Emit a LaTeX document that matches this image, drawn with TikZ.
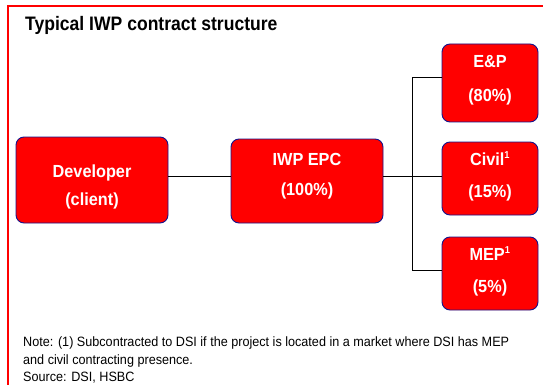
\documentclass[tikz,border=0pt]{standalone}
\usepackage{fontspec}
\usepackage{graphicx}
\setmainfont{Liberation Sans}
\definecolor{boxred}{RGB}{255,0,0}
\definecolor{boxblue}{RGB}{20,20,140}
\newcommand{\cnd}[2]{\scalebox{#1}[1]{#2}}
\begin{document}
\begin{tikzpicture}[x=1pt,y=-1pt,
  entity/.style={draw=boxblue,line width=0.9pt,fill=boxred,rounded corners=8pt},
  lbl/.style={text=white,font=\fontsize{17.5}{17.5}\selectfont\bfseries,anchor=base,inner sep=0pt},
  link/.style={draw=black,line width=1pt},
  frame/.style={draw=red,line width=1.6pt},
  notetext/.style={anchor=base west,inner sep=0pt,font=\fontsize{13.5}{13.5}\selectfont}]
\useasboundingbox (0,0) rectangle (543,385);
\draw[frame] (8,385) -- (8,6) -- (543,6);
\node[anchor=base west,inner sep=0pt,font=\fontsize{19.5}{19.5}\selectfont\bfseries] (title) at (25,31) {\cnd{0.9}{Typical IWP contract structure}};
% boxes
\draw[entity] (16,137) rectangle (168,223);
\node[lbl] (dev1) at (92,177) {\cnd{0.93}{Developer}};
\node[lbl] (dev2) at (92,205) {\cnd{0.93}{(client)}};
\coordinate (devR) at (168,176);
\draw[entity] (231,139) rectangle (383,223);
\node[lbl] (epc1) at (307,165) {\cnd{0.93}{IWP EPC}};
\node[lbl] (epc2) at (307,195) {\cnd{0.93}{(100\%)}};
\coordinate (epcL) at (231,176);
\coordinate (epcR) at (383,176);
\draw[entity] (442,44) rectangle (538,122);
\node[lbl] (ep1) at (490,68) {\cnd{0.93}{E\&P}};
\node[lbl] (ep2) at (490,102) {\cnd{0.93}{(80\%)}};
\draw[entity] (442,142) rectangle (538,215);
\node[lbl] (civ1) at (490,165) {\cnd{0.93}{Civil\textsuperscript{\fontsize{10}{10}\selectfont 1}}};
\node[lbl] (civ2) at (490,197) {\cnd{0.93}{(15\%)}};
\draw[entity] (442,237) rectangle (538,310);
\node[lbl] (mep1) at (490,260) {\cnd{0.93}{MEP\textsuperscript{\fontsize{10}{10}\selectfont 1}}};
\node[lbl] (mep2) at (490,292) {\cnd{0.93}{(5\%)}};
% connectors
\coordinate (epL) at (442,78);
\coordinate (civL) at (442,176);
\coordinate (mepL) at (442,270);
\draw[link] (devR) -- (epcL);
\draw[link] (epcR) -- (civL);
\draw[link] (epL) -- (412,78) -- (412,270) -- (mepL);
% notes
\node[notetext] (note1) at (23,346) {\cnd{0.935}{Note: (1) Subcontracted to DSI if the project is located in a market where DSI has MEP}};
\node[notetext] (note2) at (23,364) {\cnd{0.935}{and civil contracting presence.}};
\node[notetext] (note3) at (23,381) {\cnd{0.935}{Source: DSI, HSBC}};
\end{tikzpicture}
\end{document}
